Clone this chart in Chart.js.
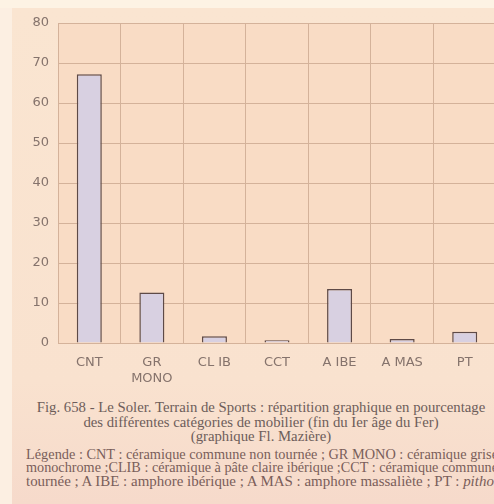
<!DOCTYPE html>
<html>
<head>
<meta charset="utf-8">
<script src="https://cdn.jsdelivr.net/npm/chart.js@4/dist/chart.umd.min.js"></script>
<style>
  html, body { margin: 0; padding: 0; }
  body { width: 494px; height: 504px; overflow: hidden; position: relative; background: #f7ddcb; }
  #paper { position: absolute; left: 12px; top: 8px; width: 500px; height: 496px; background: linear-gradient(#fae5d1, #f9e2cf 75%, #f6dacb); }
  #strip { position: absolute; left: 0; top: 0; width: 12px; height: 504px; background: #fcefe2; }
  #topband { position: absolute; left: 0; top: 0; width: 494px; height: 8px; background: #fdf3e4; }
  #wrap { position: absolute; left: 0; top: 0; width: 496px; height: 392px; }
  .cap { position: absolute; left: 14px; width: 494px; text-align: center; font-family: "Liberation Serif", "DejaVu Serif", serif; font-size: 14.75px; color: #6d5d5a; white-space: nowrap; }
  .leg { position: absolute; left: 26px; font-family: "Liberation Serif", serif; font-size: 14.8px; color: #7a5e5a; white-space: nowrap; transform-origin: 0 50%; }
</style>
</head>
<body>
<div id="paper"></div>
<div id="strip"></div>
<div id="topband"></div>
<div id="wrap"><canvas id="c" width="496" height="392"></canvas></div>
<div class="cap" style="top:399px;">Fig. 658 - Le Soler. Terrain de Sports : répartition graphique en pourcentage</div>
<div class="cap" style="top:414px;">des différentes catégories de mobilier (fin du Ier âge du Fer)</div>
<div class="cap" style="top:428px;">(graphique Fl. Mazière)</div>
<div class="leg" style="top:446px;">Légende : CNT : céramique commune non tournée ; GR MONO : céramique grise</div>
<div class="leg" style="top:459px;">monochrome ;CLIB : céramique à pâte claire ibérique ;CCT : céramique commune</div>
<div class="leg" style="top:473px;">tournée ; A IBE : amphore ibérique ; A MAS : amphore massaliète ; PT : <i>pithoi</i></div>
<script>
const categories = [["CNT"], ["GR", "MONO"], ["CL IB"], ["CCT"], ["A IBE"], ["A MAS"], ["PT"]];
const values = [67.2, 12.6, 1.7, 0.7, 13.5, 1.0, 2.8];
const yMin = 0, yMax = 80, yStep = 10;

// fit the justified legend lines to the printed column width
document.querySelectorAll('.leg').forEach(function (el) {
  const w = el.getBoundingClientRect().width;
  el.style.transform = 'scaleX(' + (472 / w) + ')';
});

const plotBg = {
  id: 'plotBg',
  beforeDraw(chart) {
    const a = chart.chartArea, ctx = chart.ctx;
    ctx.save();
    ctx.fillStyle = '#f9dcc5';
    ctx.fillRect(a.left, a.top, a.right - a.left, a.bottom - a.top);
    ctx.restore();
  }
};

new Chart(document.getElementById('c'), {
  type: 'bar',
  data: {
    labels: categories,
    datasets: [{
      data: values,
      backgroundColor: '#d8d0e1',
      borderColor: '#5e4a47',
      borderWidth: 1.5,
      barPercentage: 0.8,
      categoryPercentage: 0.5
    }]
  },
  options: {
    responsive: false,
    animation: false,
    devicePixelRatio: 1,
    layout: { padding: { top: 23, right: 0, bottom: 0, left: 0 } },
    plugins: { legend: { display: false }, tooltip: { enabled: false } },
    scales: {
      x: {
        offset: true,
        grid: { display: true, offset: true, color: '#d4b29a', lineWidth: 1, drawTicks: false },
        border: { display: false },
        ticks: { color: '#85736c', font: { family: 'DejaVu Sans', size: 13 }, padding: 12, maxRotation: 0, autoSkip: false },
        afterFit(s) { s.height = 49; }
      },
      y: {
        min: yMin, max: yMax,
        grid: { color: '#d4b29a', lineWidth: 1, drawTicks: false },
        border: { display: true, color: '#d4b29a' },
        ticks: { stepSize: yStep, color: '#85736c', font: { family: 'DejaVu Sans', size: 13 }, padding: 9 },
        afterFit(s) { s.width = 58; }
      }
    }
  },
  plugins: [plotBg]
});
</script>
</body>
</html>
